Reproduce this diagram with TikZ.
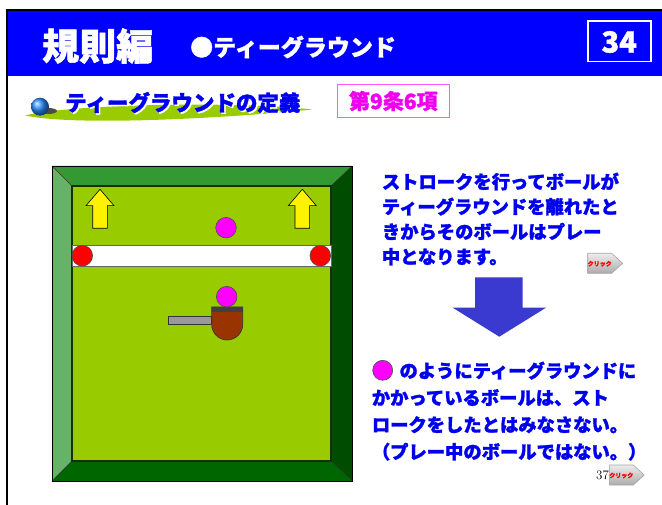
\documentclass[tikz,border=0pt]{standalone}
\usepackage{fontspec}
\newfontfamily\jp{Noto Sans CJK JP}[BoldFeatures={FakeBold=1.5}]
\usetikzlibrary{positioning}

\definecolor{bandblue}{RGB}{0,0,255}
\definecolor{txtblue}{RGB}{0,0,240}
\definecolor{arrblue}{RGB}{58,58,208}
\definecolor{field}{RGB}{153,204,0}
\definecolor{frmtop}{RGB}{51,153,51}
\definecolor{frmleft}{RGB}{102,178,102}
\definecolor{frmright}{RGB}{0,76,0}
\definecolor{frmbot}{RGB}{0,102,0}
\definecolor{teebrown}{RGB}{153,51,0}
\definecolor{pinkline}{RGB}{255,90,255}
\definecolor{pinktxt}{RGB}{240,0,240}
\definecolor{ballpink}{RGB}{255,0,255}
\definecolor{ballblue}{RGB}{40,140,255}

\begin{document}
\begin{tikzpicture}
[x=1pt,y=-1pt,
 head/.style={font=\jp\bfseries\fontsize{#1}{#1}\selectfont,text=white,inner sep=0,anchor=west},
 para/.style={font=\jp\bfseries\fontsize{18.3}{#1}\selectfont,text=txtblue,inner sep=0,
              anchor=base west,align=left},
 ball/.style={draw=black!70,line width=0.6pt},
 uparrow/.style={fill=yellow,draw=black,line width=0.6pt},
 clickbtn/.pic={
   \path[top color=gray!15,bottom color=gray!65,draw=gray!70,line width=0.6pt]
     (0,0) -- (24,0) -- (35,10) -- (24,20) -- (0,20) -- cycle;
   \node[font=\jp\bfseries\fontsize{6}{6}\selectfont,text=red,inner sep=0] at (12,10.5) {クリック};
 }]
\useasboundingbox (0,0) rectangle (662,505);
\fill[white] (0,0) rectangle (662,505);

% title band
\fill[bandblue] (8.3,11) rectangle (662,76);
\draw[line width=2.2pt] (6.3,10) -- (662,10);
\draw[line width=2pt] (7.3,9) -- (7.3,505);
\node[head=37] (ttl) at (42,46) {規則編};
\node[head=23] (topic) at (190,47) {●ティーグラウンド};
\draw[white,line width=1.6pt] (587.7,21) rectangle (650.7,61.7);
\node[head=29,anchor=center] (page) at (619.2,42) {34};

% heading with swoosh
\fill[field] (25,115.5) .. controls (70,104) and (240,101) .. (312,109.5)
  .. controls (240,117) and (80,127) .. (25,115.5) -- cycle;
\fill[black!70] (48,111) ellipse [x radius=9pt,y radius=3pt];
\shade[ball color=ballblue] (40,106.7) circle (9pt);
\node[head=21.5,text=white] at (66.5,104) {ティーグラウンドの定義};
\node[head=21.5,text=txtblue] (defn) at (65,102.5) {ティーグラウンドの定義};
\node[draw=pinkline,line width=1pt,minimum width=112pt,minimum height=32.6pt,
      font=\jp\bfseries\fontsize{21}{21}\selectfont,text=pinktxt,inner sep=0]
  (art) at (393.3,101) {第9条6項};

% teeing ground frame
\fill[frmtop] (52,166) -- (352,166) -- (331,186) -- (72,186) -- cycle;
\fill[frmleft] (52,166) -- (72,186) -- (72,461) -- (52,481) -- cycle;
\fill[frmright] (352,166) -- (352,481) -- (331,461) -- (331,186) -- cycle;
\fill[frmbot] (52,481) -- (352,481) -- (331,461) -- (72,461) -- cycle;
\draw[black!80,line width=0.5pt] (52,166) -- (72,186) (352,166) -- (331,186)
  (52,481) -- (72,461) (352,481) -- (331,461);
\draw[line width=0.9pt] (52,166) rectangle (352,481);
\draw[fill=field,draw={rgb,255:red,20;green,50;blue,0},line width=1.4pt] (72,186) rectangle (331,461);

% tee marker line
\draw[fill=white,draw=black!60,line width=0.8pt] (72,245) rectangle (331,266);
\draw[ball,fill=red] (82.3,255.7) circle (10.3pt);
\draw[ball,fill=red] (320.3,255.7) circle (10.3pt);

% direction of play
\foreach \x in {100,302.3}
  \draw[uparrow] (\x-7.3,228.3) -- (\x-7.3,205.7) -- (\x-14,205.7) -- (\x,189.3)
    -- (\x+14,205.7) -- (\x+7.3,205.7) -- (\x+7.3,228.3) -- cycle;

% balls and tee
\draw[ball,fill=ballpink] (226,227.7) circle (10.3pt);
\draw[fill=black!40,draw=black!80,line width=0.6pt] (168.3,316) rectangle (211.7,324.3);
\draw[fill=teebrown,draw=black!80,line width=0.6pt] (211.7,307) -- (242.7,307) -- (242.7,324.5)
  arc (0:-180:15.5pt) -- cycle;
\fill[black!75] (211.7,307) rectangle (242.7,311.7);
\draw[ball,fill=ballpink] (226.7,296.7) circle (10.3pt);

% explanation (base anchor sits on the last line)
\node[para=25] (rule) at (381.7,263.7)
  {ストロークを行ってボールが\\ティーグラウンドを離れたと\\きからそのボールはプレー\\中となります。};
\pic at (587.7,253.3) {clickbtn};

\fill[arrblue] (475,277.3) -- (522.7,277.3) -- (522.7,307.7) -- (546,307.7)
  -- (499.3,336.7) -- (452.7,307.7) -- (475,307.7) -- cycle;

\draw[ball,fill=ballpink] (382.7,370.3) circle (10pt);
\node[para=27] (note) at (371.7,458.7)
  {\hspace*{27.6pt}のようにティーグラウンドに\\かかっているボールは、スト\\ロークをしたとはみなさない。\\（プレー中のボールではない。）};

\node[font=\fontsize{13}{13}\selectfont,inner sep=0] (num) at (602.5,475) {37};
\pic at (609.3,465) {clickbtn};
\end{tikzpicture}
\end{document}
